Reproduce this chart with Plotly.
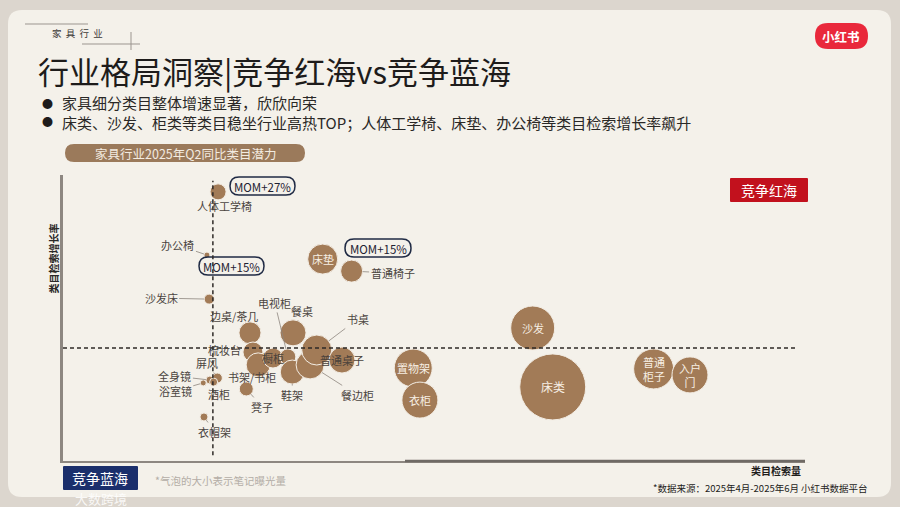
import plotly.graph_objects as go

# 家具行业2025年Q2类目潜力（读图估计的相对指数）
categories = ['人体工学椅', '办公椅', '沙发床', '床垫', '普通椅子', '边桌/茶几', '餐桌', '梳妆台',
              '书架/书柜', '橱柜', '电视柜', '鞋架', '餐边柜', '书桌', '普通桌子', '凳子',
              '屏风', '全身镜', '浴室镜', '酒柜', '衣帽架', '置物架', '衣柜', '沙发', '床类',
              '普通柜子', '入户门']
search_volume = [20.9, 19.4, 19.7, 35.0, 38.9, 25.2, 31.0, 25.6, 26.3, 28.3, 30.3, 30.9, 33.3,
                 34.2, 37.6, 24.7, 20.8, 19.8, 18.9, 20.3, 19.0, 47.2, 48.1, 63.3, 66.0, 79.6, 84.5]
search_growth = [94.1, 72.0, 56.6, 70.6, 66.4, 44.8, 44.8, 38.1, 33.6, 36.0, 36.4, 31.1, 33.6,
                 38.8, 35.3, 25.2, 29.0, 28.3, 27.3, 27.6, 15.4, 32.5, 21.3, 46.5, 25.9, 32.2, 30.1]
exposure = [64, 9, 25, 225, 121, 121, 169, 100, 144, 100, 64, 144, 196, 225, 169, 49,
            25, 16, 9, 16, 16, 361, 324, 484, 1089, 400, 324]
avg_volume = 20.2   # 竖虚线
avg_growth = 39.5   # 横虚线
mom_labels = ['MOM+27%', 'MOM+15%', 'MOM+15%']

W, H = 900, 507
L, R, T, B = 63, 95, 175, 46
PW, PH = W - L - R, H - T - B
FONT = 'Noto Sans CJK SC'
BROWN = '#a27b57'


def pp(x, y):
    # 像素 -> paper 坐标
    return (x - L) / PW, (H - B - y) / PH


def rrect(x0, y0, x1, y1, r):
    pts = [('M', x0 + r, y0), ('L', x1 - r, y0), ('Q', x1, y0, x1, y0 + r), ('L', x1, y1 - r),
           ('Q', x1, y1, x1 - r, y1), ('L', x0 + r, y1), ('Q', x0, y1, x0, y1 - r),
           ('L', x0, y0 + r), ('Q', x0, y0, x0 + r, y0)]
    s = ''
    for p in pts:
        cmd, coords = p[0], p[1:]
        xy = []
        for i in range(0, len(coords), 2):
            a, b = pp(coords[i], coords[i + 1])
            xy.append(f'{a:.5f},{b:.5f}')
        s += cmd + ' '.join(xy) + ' '
    return s + 'Z'


def box(x0, y0, x1, y1, r, fill, line=None, lw=0):
    return dict(type='path', xref='paper', yref='paper', path=rrect(x0, y0, x1, y1, r),
                fillcolor=fill, line=dict(color=line or fill, width=lw), layer='below')


def ptext(x, y, text, size, color='#333', xanchor='left', **kw):
    a, b = pp(x, y)
    return dict(x=a, y=b, xref='paper', yref='paper', text=text, showarrow=False,
                xanchor=xanchor, yanchor='middle', font=dict(family=FONT, size=size, color=color), **kw)


fig = go.Figure()
fig.add_trace(go.Scatter(
    x=search_volume, y=search_growth, mode='markers',
    marker=dict(size=exposure, sizemode='area', sizeref=0.5, color=BROWN, opacity=1,
                line=dict(color='#f3ede4', width=1)),
    text=categories, hoverinfo='text'))

# 标签：圆内白字 / 圆外引线
inside_white = {'床垫': '床垫', '置物架': '置物架', '衣柜': '衣柜', '沙发': '沙发', '床类': '床类',
                '普通柜子': '普通<br>柜子', '入户门': '入户<br>门'}
inside_dark = ['橱柜', '普通桌子']
offsets = {'人体工学椅': (6, 14), '办公椅': (-29, -10), '沙发床': (-48, -1), '普通椅子': (41, 2),
           '边桌/茶几': (-16, -17), '电视柜': (-13, -54), '餐桌': (9, -22), '书桌': (41, -31),
           '梳妆台': (-28, -2), '书架/书柜': (-6, 12), '鞋架': (0, 23), '餐边柜': (47, 30),
           '凳子': (16, 18), '屏风': (-10, -15), '全身镜': (-35, -4), '浴室镜': (-28, 8),
           '酒柜': (5, 12), '衣帽架': (11, 15)}

annotations = []
for name, xv, yv, e in zip(categories, search_volume, search_growth, exposure):
    r = (e / 2 / 0.5) ** 0.5
    if name in inside_white:
        annotations.append(dict(x=xv, y=yv, text=inside_white[name], showarrow=False,
                                font=dict(family=FONT, size=12 if name == '床类' else 11, color='#f7efe4')))
    elif name in inside_dark:
        annotations.append(dict(x=xv, y=yv, text=name, showarrow=False,
                                font=dict(family=FONT, size=11, color='#4a423b')))
    else:
        ax, ay = offsets[name]
        annotations.append(dict(x=xv, y=yv, text=name, showarrow=True, ax=ax, ay=ay,
                                arrowhead=0, arrowwidth=0.8, arrowcolor='#8d857d', standoff=r,
                                font=dict(family=FONT, size=11, color='#4a4440')))

# MOM 标注框
mom_boxes = [(230, 177, 295, 195), (199, 257, 264, 275), (345, 239, 411, 257)]
shapes = [box(8, 10, 891, 497, 14, '#f4f1ea')]
for (x0, y0, x1, y1), lab in zip(mom_boxes, mom_labels):
    s = box(x0, y0, x1, y1, 9, '#f4f1ea', '#1f2a44', 1.5)
    s['layer'] = 'above'
    shapes.append(s)
    annotations.append(ptext((x0 + x1) / 2, (y0 + y1) / 2 + 0.5, lab, 11.5, '#1f2233', 'center'))

# 均值虚线
shapes.append(dict(type='line', xref='x', yref='y', x0=avg_volume, x1=avg_volume, y0=2, y1=98,
                   line=dict(color='#2e2a27', width=1.5, dash='4px,3px')))
shapes.append(dict(type='line', xref='x', yref='y', x0=0, x1=98.8, y0=avg_growth, y1=avg_growth,
                   line=dict(color='#2e2a27', width=1.5, dash='4px,3px')))

# 页眉装饰
shapes += [
    dict(type='line', xref='paper', yref='paper', x0=pp(25, 0)[0], x1=pp(88, 0)[0],
         y0=pp(0, 24)[1], y1=pp(0, 24)[1], line=dict(color='#9b958f', width=1)),
    dict(type='line', xref='paper', yref='paper', x0=pp(82, 0)[0], x1=pp(140, 0)[0],
         y0=pp(0, 44)[1], y1=pp(0, 44)[1], line=dict(color='#9b958f', width=1)),
    dict(type='line', xref='paper', yref='paper', x0=pp(131, 0)[0], x1=pp(131, 0)[0],
         y0=pp(0, 32)[1], y1=pp(0, 50)[1], line=dict(color='#9b958f', width=1)),
    box(815, 23, 868, 49, 13, '#e9283b'),
    box(65, 144, 305, 162, 9, '#9b7a5b'),
    box(730, 178, 808, 202, 1, '#c2111d'),
    box(63, 466, 138, 490, 1, '#1b2f6c'),
    dict(type='line', xref='paper', yref='paper', x0=pp(405, 0)[0], x1=1,
         y0=0, y1=0, line=dict(color='#6f6a65', width=2.5)),
]

sp = '&nbsp;&nbsp;'
annotations += [
    ptext(50, 33, sp.join('家具行业'), 9.5, '#3c3a38'),
    ptext(36, 70, '行业格局洞察|竞争红海vs竞争蓝海', 31, '#1e1c1b'),
    ptext(40, 103, '●', 11, '#1e1c1b'),
    ptext(40, 121, '●', 11, '#1e1c1b'),
    ptext(61, 112, '家具细分类目整体增速显著，欣欣向荣<br>'
                   '床类、沙发、柜类等类目稳坐行业高热TOP；人体工学椅、床垫、办公椅等类目检索增长率飙升',
          15, '#2a2826', align='left', borderpad=0),
    ptext(185, 153, '家具行业2025年Q2同比类目潜力', 12.5, '#f3ebe0', 'center'),
    ptext(841, 36, '<b>小红书</b>', 12.5, '#ffffff', 'center'),
    ptext(769, 190, '竞争红海', 14, '#ffffff', 'center'),
    ptext(100, 478, '竞争蓝海', 14, '#ffffff', 'center'),
    ptext(153, 480, '*气泡的大小表示笔记曝光量', 10.5, '#b3ada6'),
    ptext(803, 470, '<b>类目检索量</b>', 10, '#1e1c1b', 'right'),
    ptext(870, 488, '*数据来源：2025年4月-2025年6月 小红书数据平台', 9.5, '#1e1c1b', 'right'),
    ptext(74, 498, '大数跨境', 13, 'rgba(255,255,255,0.85)', borderpad=0),
    dict(x=pp(43, 0)[0], y=pp(0, 222)[1], xref='paper', yref='paper', text='<b>类目检索增长率</b>',
         showarrow=False, textangle=-90, font=dict(family=FONT, size=10, color='#2a2826')),
]

fig.update_layout(
    width=W, height=H,
    margin=dict(l=L, r=R, t=T, b=B),
    paper_bgcolor='#dcd6ce', plot_bgcolor='rgba(0,0,0,0)',
    showlegend=False,
    xaxis=dict(range=[0, 100], showgrid=False, zeroline=False, showticklabels=False, ticks='',
               showline=True, linecolor='#8d8781', linewidth=2),
    yaxis=dict(range=[0, 100], showgrid=False, zeroline=False, showticklabels=False, ticks='',
               showline=True, linecolor='#8d8781', linewidth=2.5),
    shapes=shapes, annotations=annotations,
    font=dict(family=FONT),
)
# 去掉页面默认边距，让图贴齐窗口
fig.write_html('out.html', config={'displayModeBar': False},
               post_script="document.body.style.margin='0';")
